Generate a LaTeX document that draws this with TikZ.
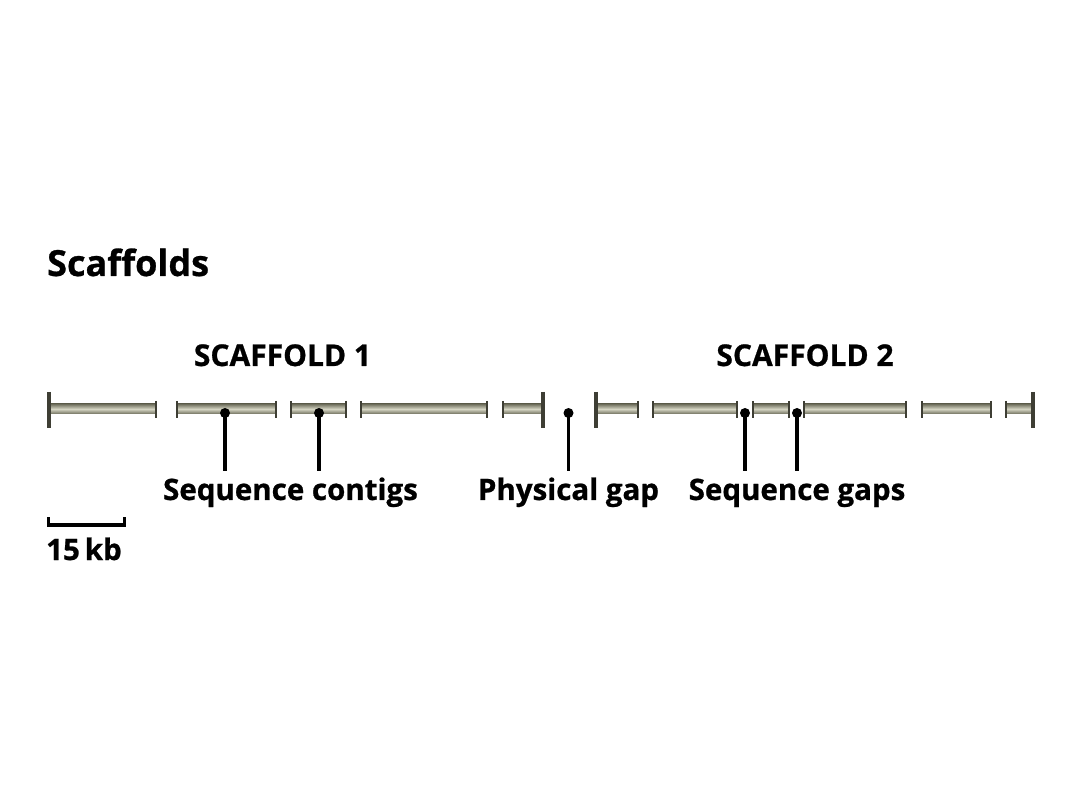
\documentclass[tikz,border=0pt]{standalone}
\usepackage{fontspec}
\setmainfont{Open Sans}[BoldFeatures={FakeBold=0.8}]
\begin{document}
\begin{tikzpicture}[x=1pt,y=-1pt,
  barfill/.style={top color=barDark, bottom color=barDark, middle color=barLight, draw=none},
  smalltick/.style={draw=tickCol, line width=2.6pt},
  bigtick/.style={draw=tickCol, line width=3.2pt},
  pin/.style={draw=black, line width=3.6pt},
  pindot/.style={fill=black},
  lbl/.style={font=\bfseries\fontsize{29.5}{31}\selectfont, inner sep=0pt, anchor=base},
  title/.style={font=\bfseries\fontsize{36}{38}\selectfont, inner sep=0pt, anchor=base west},
  scaf/.style={font=\bfseries\fontsize{30}{32}\selectfont, inner sep=0pt, anchor=base}
]
\definecolor{barDark}{HTML}{6E6E5C}
\definecolor{barLight}{HTML}{D6D6C4}
\definecolor{tickCol}{HTML}{3E3E34}
\useasboundingbox[fill=white] (0,0) rectangle (1080,810);

\node[title] (title) at (47,276) {Scaffolds};
\node[scaf] (s1) at (282.5,366) {SCAFFOLD 1};
\node[scaf] (s2) at (805,366) {SCAFFOLD 2};

% contig segments
\def\seg#1#2{\shade[barfill] (#1,404) rectangle (#2,414);}
\seg{49}{156}\seg{177}{276}\seg{291}{346}\seg{361}{487}\seg{503}{543}
\seg{596}{638}\seg{653}{737}\seg{753}{789}\seg{804}{906}\seg{922}{991}\seg{1006}{1033}

\foreach \x in {156,177,276,291,346,361,487,503,638,653,737,753,789,804,906,922,991,1006}
  \draw[smalltick] (\x,401) -- (\x,418);
\foreach \x in {49,543,596,1033}
  \draw[bigtick] (\x,392) -- (\x,428);

% pins
\coordinate (d1) at (225,413);
\coordinate (d2) at (319,413);
\coordinate (d3) at (568.5,413);
\coordinate (d4) at (745,413);
\coordinate (d5) at (797,413);
\node[lbl] (contigs) at (290.5,500) {Sequence contigs};
\node[lbl] (phys) at (568.5,500) {Physical gap};
\node[lbl] (sgaps) at (797,500) {Sequence gaps};
\foreach \d in {d1,d2,d3,d4,d5}{
  \draw[pin] (\d) -- ++(0,58);
  \fill[pindot] (\d) circle (5);
}

% scale bar
\coordinate (sb1) at (47,525);
\coordinate (sb2) at (126,525);
\draw[draw=black, line width=3.6pt] (sb1) -- (sb2);
\draw[draw=black, line width=3pt] ([xshift=1.5pt]sb1) -- ++(0,-8);
\draw[draw=black, line width=3pt] ([xshift=-1.5pt]sb2) -- ++(0,-8);
\node[lbl, anchor=base west] (kb) at (46,560) {15\,kb};
\end{tikzpicture}
\end{document}
